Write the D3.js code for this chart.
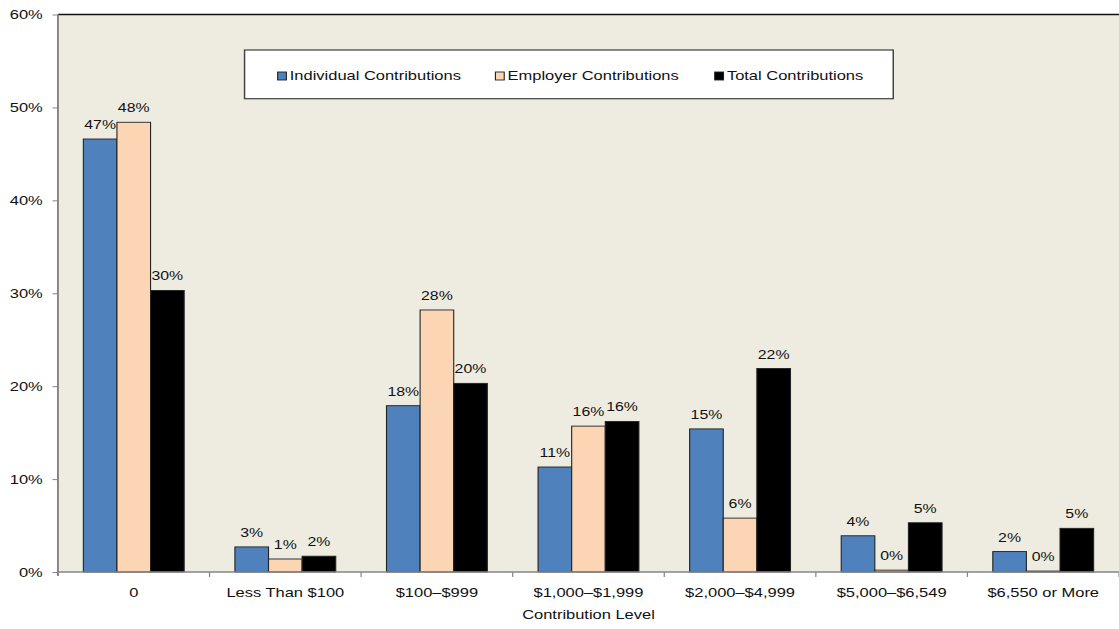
<!DOCTYPE html>
<html>
<head>
<meta charset="utf-8">
<script src="https://cdn.jsdelivr.net/npm/d3@7"></script>
<style>
  html, body { margin: 0; padding: 0; background: #fff; }
  svg { display: block; }
  text { font-family: "Liberation Sans", Arial, sans-serif; fill: #111; }
</style>
</head>
<body>
<div id="chart"></div>
<script>
// Share of accounts by annual contribution level
const categories = ["0", "Less Than $100", "$100\u2013$999", "$1,000\u2013$1,999",
                    "$2,000\u2013$4,999", "$5,000\u2013$6,549", "$6,550 or More"];
const seriesNames = ["Individual Contributions", "Employer Contributions", "Total Contributions"];
const individual = [46.6, 2.7, 17.9, 11.3, 15.4, 3.9, 2.2];
const employer   = [48.4, 1.4, 28.2, 15.7, 5.8, 0.2, 0.1];
const total      = [30.3, 1.7, 20.3, 16.2, 21.9, 5.3, 4.7];
const yTicks = [0, 10, 20, 30, 40, 50, 60];
const xTitle = "Contribution Level";

const seriesValues = [individual, employer, total];
const colors = ["#4F81BD", "#FCD5B5", "#000000"];

// Drawing is laid out in a narrower coordinate space and stretched to the page width
const W = 917, H = 629, outW = 1119;
const plot = { left: 47.5, right: 917, top: 14.5, bottom: 572 };

const svg = d3.select("#chart").append("svg")
  .attr("width", outW).attr("height", H)
  .attr("viewBox", `0 0 ${W} ${H}`)
  .attr("preserveAspectRatio", "none");

// plot background
svg.append("rect")
  .attr("x", plot.left).attr("y", plot.top)
  .attr("width", plot.right - plot.left).attr("height", plot.bottom - plot.top)
  .attr("fill", "#EEECE1");

// top border
svg.append("line")
  .attr("x1", plot.left).attr("x2", plot.right)
  .attr("y1", plot.top).attr("y2", plot.top)
  .attr("stroke", "#111").attr("stroke-width", 1.3);

const x0 = d3.scaleBand().domain(categories).range([plot.left, plot.right]).padding(0);
const x1 = d3.scaleBand().domain(seriesNames).range([0, x0.bandwidth()])
  .paddingInner(0).paddingOuter(0.755);
const y = d3.scaleLinear().domain([0, 60]).range([plot.bottom, plot.top]);

// bars
const groups = svg.append("g").selectAll("g")
  .data(categories).join("g")
  .attr("transform", d => `translate(${x0(d)},0)`);

groups.each(function (cat, ci) {
  const g = d3.select(this);
  const rows = seriesNames.map((s, si) => ({ s, si, v: seriesValues[si][ci] }));
  g.selectAll("rect").data(rows).join("rect")
    .attr("x", d => x1(d.s))
    .attr("y", d => y(d.v))
    .attr("width", x1.bandwidth())
    .attr("height", d => y(0) - y(d.v))
    .attr("fill", d => colors[d.si])
    .attr("stroke", "#222")
    .attr("stroke-width", 0.9);
  g.selectAll("text").data(rows).join("text")
    .attr("x", d => x1(d.s) + x1.bandwidth() / 2)
    .attr("y", d => y(d.v) - 10)
    .attr("text-anchor", "middle")
    .attr("font-size", 13)
    .text(d => d3.format(".0f")(d.v) + "%");
});

// y axis
const yAxis = svg.append("g")
  .attr("transform", `translate(${plot.left},0)`)
  .call(d3.axisLeft(y).tickValues(yTicks).tickSize(4.5).tickPadding(8)
    .tickFormat(d => d + "%"));
yAxis.select(".domain").attr("stroke", "#868686").attr("stroke-width", 1.6)
  .attr("d", `M0,${plot.top}V${plot.bottom + 4}`);
yAxis.selectAll(".tick line").attr("stroke", "#868686").attr("stroke-width", 1);
yAxis.selectAll(".tick text").attr("font-size", 13.5).attr("fill", "#111")
  .attr("font-family", "Liberation Sans, Arial, sans-serif");

// x axis line and boundary ticks
const xAxis = svg.append("g");
xAxis.append("line")
  .attr("x1", plot.left).attr("x2", plot.right)
  .attr("y1", plot.bottom).attr("y2", plot.bottom)
  .attr("stroke", "#868686").attr("stroke-width", 1.6);
xAxis.selectAll("line.tk")
  .data(categories.slice(1).map(c => x0(c)).concat([plot.right]))
  .join("line").attr("class", "tk")
  .attr("x1", d => d).attr("x2", d => d)
  .attr("y1", plot.bottom).attr("y2", plot.bottom + 5)
  .attr("stroke", "#868686").attr("stroke-width", 1);
xAxis.selectAll("text")
  .data(categories).join("text")
  .attr("x", d => x0(d) + x0.bandwidth() / 2)
  .attr("y", plot.bottom + 25)
  .attr("text-anchor", "middle")
  .attr("font-size", 13.5)
  .text(d => d);

// x axis title
svg.append("text")
  .attr("x", (plot.left + plot.right) / 2)
  .attr("y", 619)
  .attr("text-anchor", "middle")
  .attr("font-size", 13.5)
  .text(xTitle);

// legend
const legend = svg.append("g");
legend.append("rect")
  .attr("x", 200.4).attr("y", 50)
  .attr("width", 531.6).attr("height", 48.7)
  .attr("fill", "#fff").attr("stroke", "#404040").attr("stroke-width", 1.2);
const legendX = [227.5, 406, 585.7];
const items = legend.selectAll("g.item").data(seriesNames).join("g")
  .attr("class", "item")
  .attr("transform", (d, i) => `translate(${legendX[i]},0)`);
items.append("rect")
  .attr("x", 0).attr("y", 72)
  .attr("width", 7.2).attr("height", 8)
  .attr("fill", (d, i) => colors[i])
  .attr("stroke", "#222").attr("stroke-width", 0.9);
items.append("text")
  .attr("x", 10).attr("y", 80.5)
  .attr("font-size", 13.5)
  .text(d => d);
</script>
</body>
</html>
